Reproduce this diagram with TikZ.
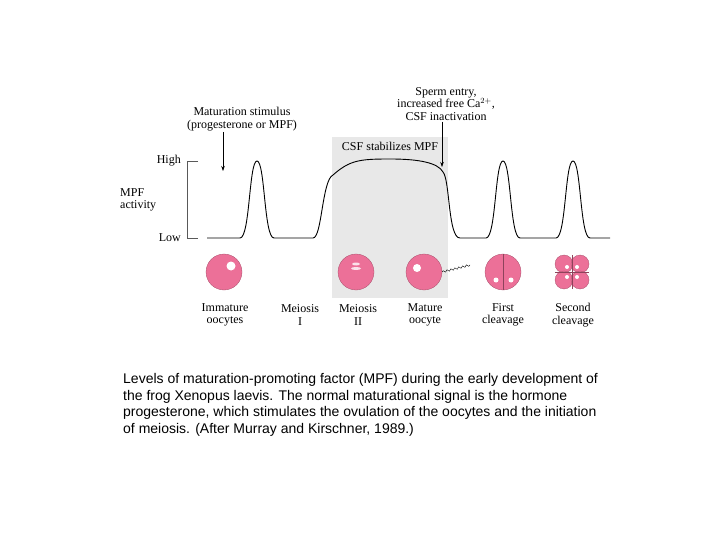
\documentclass[tikz,border=0pt]{standalone}
\usepackage{fontspec}
\setmainfont{Liberation Serif}
\newfontfamily\capfont{Liberation Sans}
\usetikzlibrary{decorations.pathmorphing,arrows.meta}
\definecolor{pinkcell}{RGB}{236,112,152}
\definecolor{boxgray}{RGB}{232,232,232}
\tikzset{lbl/.style={font=\fontsize{12}{12.5}\selectfont,align=center,inner sep=1pt},
 cell/.style={circle,fill=pinkcell,draw=pinkcell!70!black,line width=0.3pt,minimum size=36pt,inner sep=0},
 arr/.style={-{Stealth[length=5pt,width=3.5pt]},line width=0.5pt}}
\begin{document}
\begin{tikzpicture}[x=1pt,y=-1pt]
\useasboundingbox (0,0) rectangle (720,540);
\fill[boxgray] (332,137) rectangle (448,298);
% axis bracket
\draw[line width=0.4pt,gray!70!black] (198,161) -- (187,161) -- (187,238) -- (198,238);
\node[lbl,anchor=east] (hi) at (182,161) {High};
\node[lbl,anchor=east] (lo) at (182,238) {Low};
\node[lbl,anchor=west,align=left] (act) at (119,200) {MPF\\activity};
% curve
\draw[line width=0.9pt] (207,238) -- (240,238) .. controls (250,238) and (249,161) .. (257,161)
 .. controls (265,161) and (264,238) .. (274,238) -- (313,238)
 .. controls (322,238) and (322,180) .. (333,175) .. controls (350,160) and (360,159) .. (390,159)
 .. controls (420,159) and (438,163) .. (443,172) .. controls (450,180) and (448,238) .. (460,238)
 -- (486,238) .. controls (496,238) and (495,161) .. (503,161) .. controls (511,161) and (510,238) .. (520,238)
 -- (556,238) .. controls (566,238) and (565,161) .. (573,161) .. controls (581,161) and (580,238) .. (590,238) -- (610,238);
\node[lbl] (csf) at (390,146) {CSF stabilizes MPF};
\node[lbl] (mat) at (242,119) {Maturation stimulus\\(progesterone or MPF)};
\coordinate (mattip) at (223,171);
\draw[arr] (223,132) -- (mattip);
\node[lbl] (sperm) at (446,104) {Sperm entry,\\increased free Ca$^{2+}$,\\CSF inactivation};
\coordinate (spermtip) at (442,167);
\draw[arr] (sperm.south -| spermtip) -- (spermtip);
% cells
\node[cell] (c1) at (224,272) {};
\fill[white] (231,266) circle (4.5);
\node[cell] (c2) at (356,272) {};
\fill[white!80!pinkcell] (356,264) ellipse (4 and 1.5);
\fill[white!80!pinkcell] (356,268.5) ellipse (5 and 1.5);
\node[cell] (c3) at (424,272) {};
\fill[white] (417,268) circle (4);
\draw[line width=0.4pt,decorate,decoration={snake,amplitude=1pt,segment length=4pt}] (c3.east) -- (470,265);
\node[cell] (c4) at (503,272) {};
\draw[pinkcell!60!black,line width=0.4pt] (503,254) -- (503,290);
\fill[white] (496,280) circle (2.5);
\fill[white] (511,280) circle (2.5);
\foreach \dx/\dy in {-1/-1,1/-1,-1/1,1/1}{
 \node[circle,fill=pinkcell,draw=pinkcell!70!black,line width=0.3pt,minimum size=18pt,inner sep=0] at (572+\dx*8,272+\dy*8) {};
 \fill[white] (572+\dx*5,272+\dy*5) circle (2);}
\draw[pinkcell!60!black,line width=0.5pt] (555,272) -- (589,272) (572,255) -- (572,289);
% labels
\node[lbl] (l1) at (225,315) {Immature\\oocytes};
\node[lbl] (l2) at (300,315) {Meiosis\\I};
\node[lbl] (l3) at (358,315) {Meiosis\\II};
\node[lbl] (l4) at (425,315) {Mature\\oocyte};
\node[lbl] (l5) at (503,315) {First\\cleavage};
\node[lbl] (l6) at (573,315) {Second\\cleavage};
\node[anchor=north west,align=left,font=\capfont\fontsize{14}{16.7}\selectfont,inner sep=0] (cap) at (123,373)
{Levels of maturation-promoting factor (MPF) during the early development of\\the frog Xenopus laevis. The normal maturational signal is the hormone\\progesterone, which stimulates the ovulation of the oocytes and the initiation\\of meiosis. (After Murray and Kirschner, 1989.)};
\end{tikzpicture}
\end{document}
